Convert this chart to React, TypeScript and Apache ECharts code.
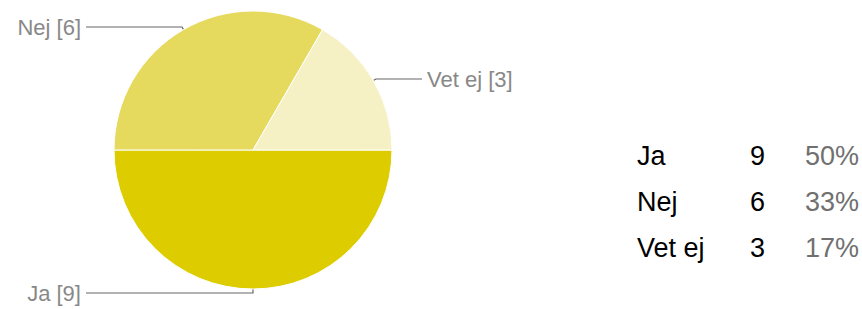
import React, { useEffect, useRef } from "react";
import * as echarts from "echarts";

const categories = ["Ja", "Nej", "Vet ej"];
const values = [9, 6, 3];
const percentLabels = ["50%", "33%", "17%"];
const colors = ["#DDCC00", "#E6DA5E", "#F5F1C4"];
const lineLen = [4, 3, 3];
const lineLen2 = [167, 96, 46];

export default function App() {
  const ref = useRef<HTMLDivElement>(null);
  useEffect(() => {
    document.body.style.margin = "0";
    const chart = echarts.init(ref.current!, null, { renderer: "svg" });
    const font = "Liberation Sans, Arial, sans-serif";
    const rowY = [156, 202, 248];
    const graphics: any[] = [];
    categories.forEach((c, i) => {
      graphics.push({
        type: "text", x: 637, y: rowY[i],
        style: { text: c, fill: "#000", font: `27px ${font}`, verticalAlign: "middle" },
      });
      graphics.push({
        type: "text", x: 750, y: rowY[i],
        style: { text: String(values[i]), fill: "#000", font: `27px ${font}`, verticalAlign: "middle" },
      });
      graphics.push({
        type: "text", x: 805, y: rowY[i],
        style: { text: percentLabels[i], fill: "#707070", font: `27px ${font}`, verticalAlign: "middle" },
      });
    });
    chart.setOption({
      animation: false,
      graphic: graphics,
      series: [
        {
          type: "pie",
          center: [253, 150],
          radius: 139,
          startAngle: -0.01,
          clockwise: true,
          avoidLabelOverlap: false,
          itemStyle: { borderColor: "#fff", borderWidth: 1 },
          label: {
            show: true,
            formatter: "{b} [{c}]",
            color: "#888",
            fontSize: 22,
            fontFamily: font,
            distanceToLabelLine: 5,
          },
          labelLine: { lineStyle: { color: "#666", width: 1.2 } },
          data: categories.map((c, i) => ({
            name: c,
            value: values[i],
            itemStyle: { color: colors[i] },
            labelLine: { length: lineLen[i], length2: lineLen2[i] },
          })),
        },
      ],
    });
    return () => chart.dispose();
  }, []);
  return <div ref={ref} style={{ width: 862, height: 309 }} />;
}
